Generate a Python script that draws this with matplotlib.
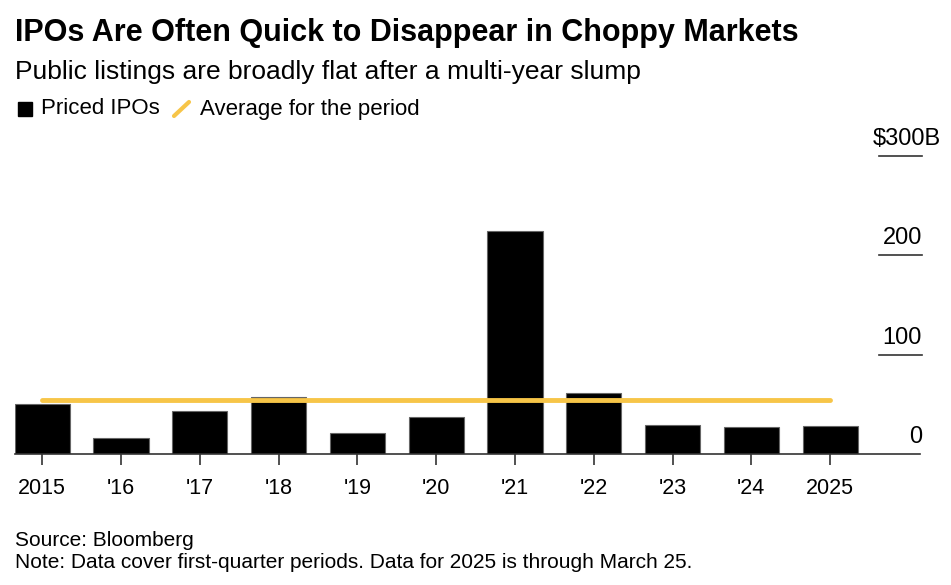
import matplotlib.pyplot as plt
from matplotlib.lines import Line2D
from matplotlib.patches import Rectangle

plt.rcParams['font.family'] = ['Liberation Sans', 'DejaVu Sans']

years = ["2015", "'16", "'17", "'18", "'19", "'20", "'21", "'22", "'23", "'24", "2025"]
priced_ipos = [50, 16, 43, 57, 21, 37, 225, 61, 29, 27, 28]
period_average = 54
y_ticks = [0, 100, 200, 300]
y_tick_labels = ["0", "100", "200", "$300B"]

YELLOW = "#F7C548"

fig = plt.figure(figsize=(9.51, 5.85), dpi=100)
ax = fig.add_axes([15 / 951, 1 - 454 / 585, 905 / 951, 298 / 585])

x = list(range(len(years)))
ax.bar(x, priced_ipos, width=0.7, color="black", edgecolor="#666666", linewidth=0.8, zorder=2)
# Average line runs from the first to the last bar centre
ax.plot([x[0], x[-1]], [period_average, period_average], color=YELLOW, linewidth=3.5,
        solid_capstyle="round", zorder=3)

ax.set_xlim(-0.345, 11.14)
ax.set_ylim(0, 300)

for s in ["top", "right", "left"]:
    ax.spines[s].set_visible(False)
ax.spines["bottom"].set_color("#333333")
ax.spines["bottom"].set_linewidth(1.2)

ax.set_xticks(x)
ax.set_xticklabels(years, fontsize=15.5)
ax.tick_params(axis="x", length=8, width=1.2, color="#333333", pad=9)
ax.set_yticks([])

# right-side value labels sitting on short rules
ytrans = ax.get_yaxis_transform()
for v, lab in zip(y_ticks, y_tick_labels):
    if v > 0:
        ax.plot([0.955, 1.002], [v, v], transform=ytrans, color="#333333", linewidth=1.2,
                clip_on=False)
    # the top label's "B" suffix hangs past the number column
    xpos = 1.023 if lab.endswith("B") else 1.002
    ax.text(xpos, v + 6, lab.replace("$", r"\$"), transform=ytrans, ha="right", va="bottom",
            fontsize=17, clip_on=False)

# titles
fig.text(15 / 951, 1 - 33 / 585, "IPOs Are Often Quick to Disappear in Choppy Markets",
         fontsize=22, fontweight="bold", va="center", ha="left")
fig.text(15 / 951, 1 - 72 / 585, "Public listings are broadly flat after a multi-year slump",
         fontsize=19, va="center", ha="left")

# legend
fig.patches.append(Rectangle((18 / 951, 1 - 116 / 585), 14 / 951, 14 / 585,
                             transform=fig.transFigure, color="black"))
fig.text(41 / 951, 1 - 109 / 585, "Priced IPOs", fontsize=16, va="center", ha="left")
fig.lines.append(Line2D([174 / 951, 189 / 951], [1 - 116 / 585, 1 - 102 / 585],
                        transform=fig.transFigure, color=YELLOW, linewidth=3,
                        solid_capstyle="round"))
fig.text(200 / 951, 1 - 109 / 585, "Average for the period", fontsize=16, va="center", ha="left")

# footer
fig.text(15 / 951, 1 - 540 / 585, "Source: Bloomberg", fontsize=15, va="center", ha="left")
fig.text(15 / 951, 1 - 563 / 585,
         "Note: Data cover first-quarter periods. Data for 2025 is through March 25.",
         fontsize=15, va="center", ha="left")

fig.savefig("out.png", dpi=100)
